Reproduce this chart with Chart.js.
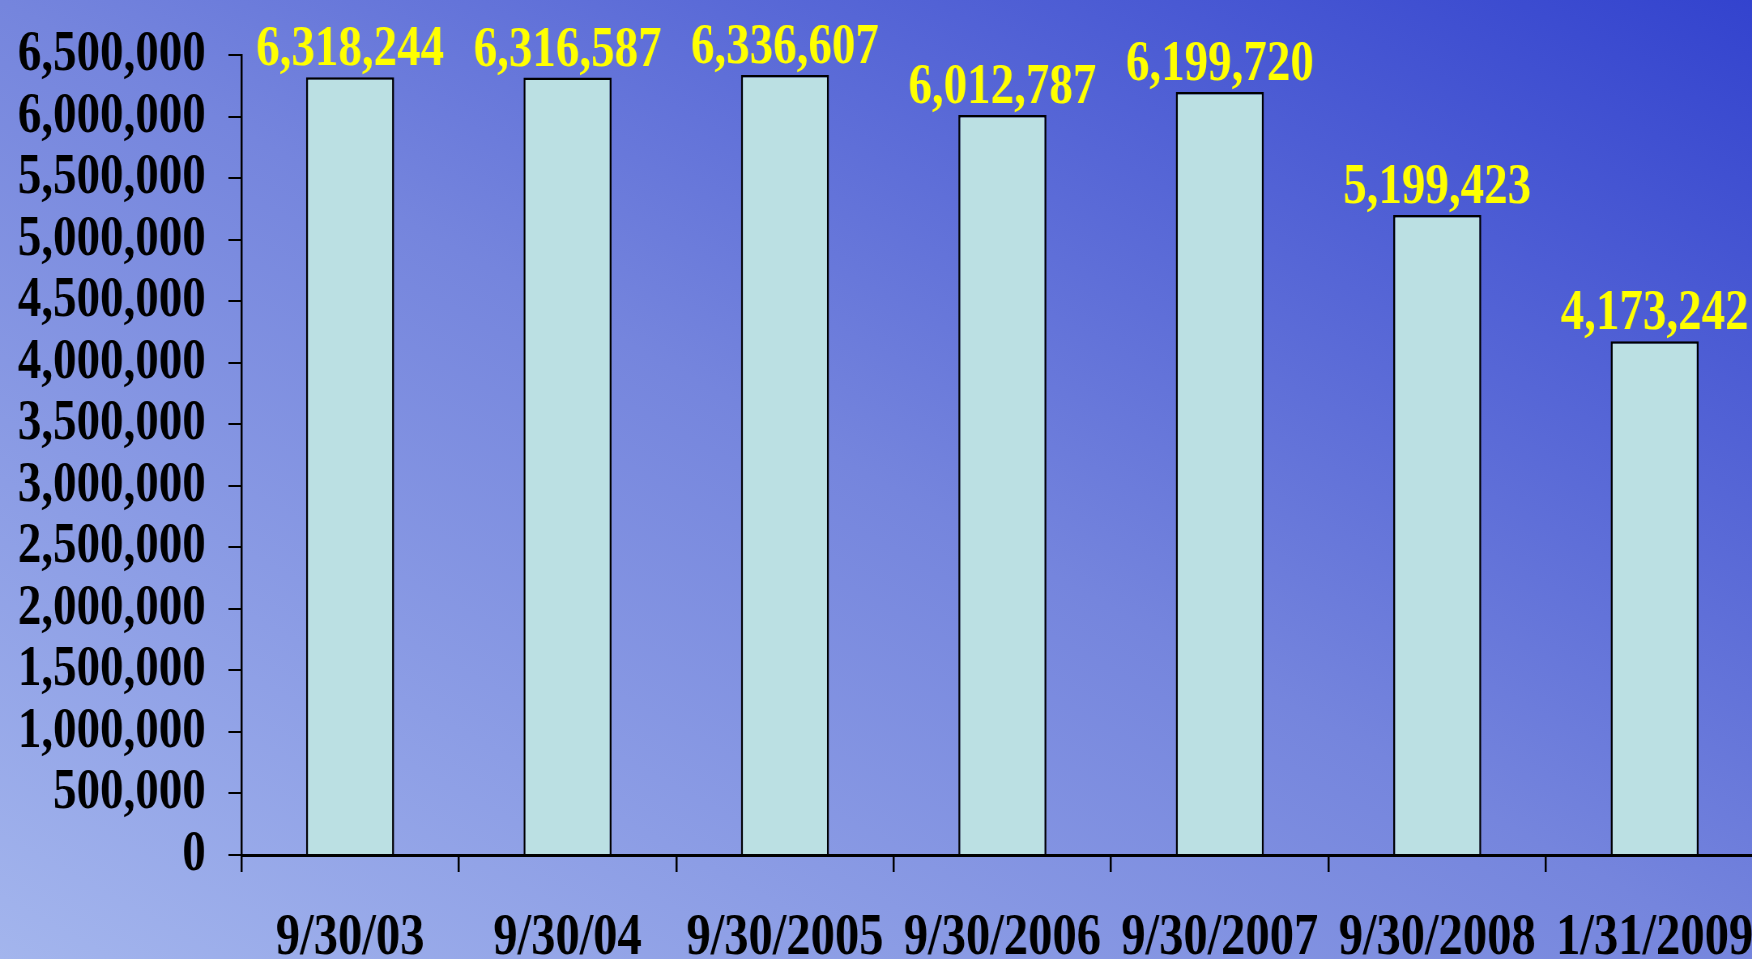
<!DOCTYPE html>
<html>
<head>
<meta charset="utf-8">
<script src="https://cdn.jsdelivr.net/npm/chart.js@4.4.0/dist/chart.umd.min.js"></script>
<style>
  html, body { margin: 0; padding: 0; overflow: hidden; }
  #wrap {
    position: relative; width: 1752px; height: 959px; overflow: hidden;
    background: linear-gradient(to top right, #a3b5ed 0%, #7585dd 50%, #3343ce 100%);
  }
  /* the original lettering is narrow, so the whole chart is squeezed sideways */
  #chart { position: absolute; left: 0; top: 0; transform: scaleX(0.81); transform-origin: 0 0; }
</style>
</head>
<body>
<div id="wrap"><canvas id="chart" width="2177" height="959"></canvas></div>
<script>
const categories = ['9/30/03', '9/30/04', '9/30/2005', '9/30/2006', '9/30/2007', '9/30/2008', '1/31/2009'];
const totals = [6318244, 6316587, 6336607, 6012787, 6199720, 5199423, 4173242];
const yMax = 6500000;
const yStep = 500000;

const serif = '"Liberation Serif", "Times New Roman", serif';
const fmt = v => Number(v).toLocaleString('en-US');

// yellow value above each bar
const barLabels = {
  id: 'barLabels',
  afterDatasetsDraw(chart) {
    const ctx = chart.ctx;
    const meta = chart.getDatasetMeta(0);
    ctx.save();
    ctx.font = 'bold 58px ' + serif;
    ctx.fillStyle = '#ffff00';
    ctx.textAlign = 'center';
    ctx.textBaseline = 'alphabetic';
    meta.data.forEach((bar, i) => {
      ctx.fillText(fmt(totals[i]), bar.x, bar.y - 12);
    });
    ctx.restore();
  }
};

new Chart(document.getElementById('chart'), {
  type: 'bar',
  data: {
    labels: categories,
    datasets: [{
      data: totals,
      backgroundColor: '#bbe0e3',
      borderColor: '#000',
      borderWidth: 2.5,
      categoryPercentage: 1,
      barPercentage: 0.405
    }]
  },
  options: {
    responsive: false,
    devicePixelRatio: 1,
    animation: false,
    layout: { padding: { top: 55, left: 0, right: 0, bottom: 0 } },
    plugins: { legend: { display: false }, tooltip: { enabled: false } },
    scales: {
      x: {
        offset: true,
        grid: { offset: true, drawOnChartArea: false, drawTicks: true, tickLength: 17, color: '#000', lineWidth: 2.5 },
        border: { display: true, color: '#000', width: 3 },
        ticks: { color: '#000', font: { family: serif, size: 60, weight: 'bold' }, padding: 30, maxRotation: 0, autoSkip: false },
        afterFit: s => { s.height = 104; s.paddingLeft = 0; s.paddingRight = 0; }
      },
      y: {
        min: 0,
        max: yMax,
        grid: { drawOnChartArea: false, drawTicks: true, tickLength: 16, color: '#000', lineWidth: 2 },
        border: { display: true, color: '#000', width: 2.5 },
        ticks: { stepSize: yStep, autoSkip: false, color: '#000', font: { family: serif, size: 58, weight: 'bold' }, padding: 28, callback: v => fmt(v) },
        afterFit: s => { s.width = 298; s.paddingTop = 0; s.paddingBottom = 0; }
      }
    }
  },
  plugins: [barLabels]
});
</script>
</body>
</html>
